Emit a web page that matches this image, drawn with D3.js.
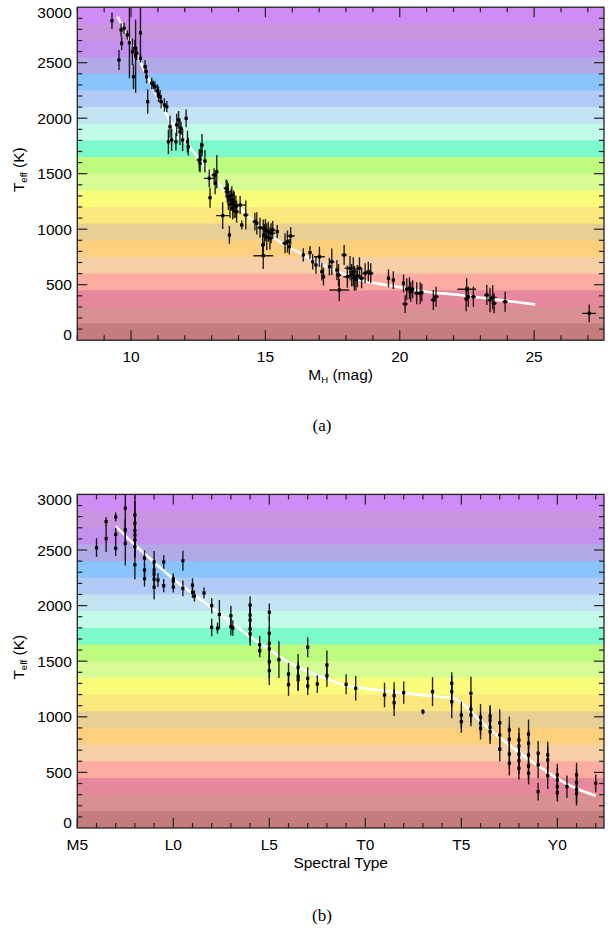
<!DOCTYPE html>
<html>
<head>
<meta charset="utf-8">
<script src="https://cdn.jsdelivr.net/npm/d3@7"></script>
<style>
  html, body { margin: 0; padding: 0; background: #fff; }
  svg { display: block; }
  text { font-family: "Liberation Sans", Arial, Helvetica, sans-serif; fill: #000; }
  .cap { font-family: "Liberation Serif", "Times New Roman", serif; }
</style>
</head>
<body>
<svg id="fig" width="614" height="928"></svg>
<script>
// ---- Temperature bands (150 K wide, hottest first) ----
const bandColors = [
  "#d08cf5", "#cb94e1", "#c490f0", "#b2aae6", "#8ac4fc",
  "#b2caf6", "#c4e4f4", "#c2fce8", "#7cfacc", "#befc80",
  "#d8fc94", "#fcfc7c", "#fce87c", "#e8d094", "#fcd07c",
  "#f8d0a8", "#fcaca0", "#e8889c", "#d89090", "#c47c7c"
];
const bandWidthK = 150;

// ---- Panel (a): Teff vs absolute H magnitude ----
const aMag = [9.29, 9.55, 9.63, 9.65, 9.74, 9.86, 9.94, 10.05, 10.09, 10.14,
  10.17, 10.21, 10.35, 10.35, 10.52, 10.56, 10.58, 10.62, 10.77, 10.83,
  10.89, 10.98, 11.02, 11.08, 11.12, 11.24, 11.33, 11.39, 11.45, 11.51,
  11.67, 11.70, 11.77, 11.82, 11.86, 11.92, 12.05, 12.10, 12.13, 12.54,
  12.57, 12.60, 12.64, 12.75, 12.91, 12.94, 13.09, 13.13, 13.19, 13.41,
  13.54, 13.58, 13.62, 13.66, 13.68, 13.72, 13.75, 13.78, 13.81, 13.84,
  13.90, 13.93, 14.06, 14.12, 14.27, 14.61, 14.68, 14.80, 14.90, 14.92,
  14.96, 15.00, 15.05, 15.11, 15.17, 15.21, 15.27, 15.44, 14.92, 15.73,
  15.82, 15.89, 15.94, 16.41, 16.66, 16.76, 16.88, 17.01, 17.10, 17.16,
  17.38, 17.47, 17.66, 17.72, 17.75, 17.93, 18.05, 18.15, 18.21, 18.27,
  18.31, 18.37, 18.42, 18.50, 18.58, 18.71, 18.83, 18.92, 19.58, 19.76,
  20.14, 20.20, 20.26, 20.36, 20.41, 20.48, 20.63, 20.76, 20.82, 21.25,
  21.35, 22.49, 22.47, 22.55, 22.74, 23.24, 23.36, 23.46, 23.51, 23.92,
  27.05];
const aTeff = [2878, 2524, 2795, 2675, 2810, 2750, 2680, 2599, 2374, 2630,
  2560, 2585, 2770, 2540, 2464, 2419, 2374, 2149, 2314, 2299,
  2284, 2245, 2215, 2194, 2149, 2119, 2104, 1788, 1923, 1804,
  1788, 1939, 1984, 1878, 1909, 1804, 1999, 1788, 1743, 1623,
  1593, 1698, 1758, 1614, 1458, 1284, 1488, 1414, 1518, 1122,
  1368, 1338, 1293, 948, 1224, 1263, 1308, 1188, 1248, 1218,
  1203, 1158, 1218, 1038, 1128, 1068, 1053, 1014, 858, 761,
  948, 993, 933, 978, 918, 963, 993, 978, 1008, 873,
  888, 842, 939, 768, 789, 707, 678, 752, 617, 572,
  662, 707, 632, 587, 452, 768, 572, 648, 587, 617,
  558, 548, 578, 648, 558, 603, 617, 603, 558, 542,
  513, 326, 459, 468, 437, 459, 423, 423, 428, 362,
  392, 459, 371, 392, 392, 407, 362, 386, 332, 347,
  242];
const aMagErr = [0.05, 0.05, 0.05, 0.05, 0.05, 0.05, 0.05, 0.05, 0.05, 0.05,
  0.05, 0.05, 0.05, 0.05, 0.05, 0.05, 0.05, 0.05, 0.05, 0.05,
  0.05, 0.05, 0.05, 0.05, 0.05, 0.05, 0.05, 0.05, 0.05, 0.05,
  0.05, 0.05, 0.05, 0.05, 0.05, 0.05, 0.05, 0.05, 0.05, 0.10,
  0.05, 0.05, 0.05, 0.05, 0.20, 0.05, 0.10, 0.05, 0.05, 0.25,
  0.10, 0.10, 0.10, 0.05, 0.10, 0.15, 0.10, 0.10, 0.10, 0.15,
  0.10, 0.10, 0.20, 0.05, 0.10, 0.10, 0.05, 0.10, 0.05, 0.37,
  0.05, 0.10, 0.10, 0.10, 0.10, 0.15, 0.10, 0.05, 0.10, 0.10,
  0.05, 0.05, 0.15, 0.05, 0.05, 0.05, 0.05, 0.20, 0.05, 0.05,
  0.05, 0.10, 0.05, 0.10, 0.37, 0.10, 0.15, 0.20, 0.10, 0.15,
  0.10, 0.10, 0.15, 0.10, 0.10, 0.10, 0.10, 0.10, 0.05, 0.05,
  0.05, 0.10, 0.05, 0.10, 0.10, 0.05, 0.10, 0.10, 0.05, 0.10,
  0.10, 0.35, 0.05, 0.05, 0.10, 0.10, 0.10, 0.15, 0.10, 0.10,
  0.26];
const aTeffErr = [75, 90, 60, 60, 50, 40, 320, 120, 110, 80,
  330, 60, 260, 40, 60, 60, 60, 110, 50, 40,
  50, 60, 70, 60, 60, 60, 50, 110, 100, 100,
  80, 100, 80, 120, 60, 100, 80, 100, 80, 100,
  80, 80, 100, 100, 80, 90, 60, 100, 150, 120,
  80, 100, 120, 80, 120, 100, 80, 100, 100, 120,
  100, 100, 80, 40, 130, 80, 100, 90, 100, 120,
  100, 100, 120, 90, 100, 90, 80, 60, 80, 90,
  100, 70, 80, 60, 60, 70, 80, 90, 80, 80,
  80, 120, 90, 100, 100, 90, 100, 110, 100, 130,
  110, 100, 100, 100, 90, 90, 90, 90, 80, 80,
  80, 80, 100, 100, 90, 80, 100, 100, 80, 90,
  90, 100, 110, 90, 90, 90, 110, 110, 90, 90,
  80];
// polynomial relation (white curve)
const aFitMag = [9.5, 10.0, 10.46, 11.33, 12.57, 13.5, 14.43, 15.55, 16.29, 17.28, 18.52, 19.76, 21.0, 22.24, 23.48, 24.73, 25.04];
const aFitTeff = [2914, 2680, 2449, 2029, 1623, 1340, 1098, 885, 783, 662, 542, 488, 437, 407, 368, 332, 323];

// ---- Panel (b): Teff vs spectral type (M5 = 5, L0 = 10, T0 = 20, Y0 = 30) ----
const bSpt = [6.0, 6.5, 6.5, 7.0, 7.0, 7.0, 7.5, 7.5, 7.5,
  8.0, 8.0, 8.0, 8.0, 8.0, 8.0, 8.0, 8.5, 8.5, 8.5,
  9.0, 9.0, 9.0, 9.0, 9.0, 9.2, 9.5, 9.5, 10.0, 10.0, 10.0,
  10.5, 10.5, 11.0, 11.0, 11.1, 11.6, 12.0, 12.0, 12.3, 12.4,
  13.0, 13.0, 13.1, 14.0, 14.0, 14.0, 14.0, 14.0, 14.5, 14.5,
  15.0, 15.0, 15.0, 15.0, 15.0, 15.0, 15.5, 16.0, 16.0,
  16.5, 16.5, 16.5, 17.0, 17.0, 17.0, 17.5, 18.0, 18.0,
  19.0, 19.5, 21.0, 21.5, 21.5, 22.0, 23.0, 23.5,
  24.5, 24.5, 24.5, 25.0, 25.0, 25.5, 25.5, 25.5,
  26.0, 26.0, 26.0, 26.5, 26.5, 26.5, 26.5, 27.0, 27.0, 27.0,
  27.5, 27.5, 27.5, 27.5, 28.0, 28.0, 28.0, 28.0, 28.0,
  28.5, 28.5, 28.5, 28.5, 28.5, 29.0, 29.0, 29.0, 29.5, 29.5, 29.5,
  30.0, 30.0, 30.0, 30.0, 30.5, 31.0, 31.0, 31.0, 31.0, 32.0];
const bTeff = [2521, 2755, 2602, 2797, 2641, 2515, 2875, 2680, 2560,
  2815, 2740, 2674, 2635, 2590, 2530, 2368, 2428, 2320, 2242,
  2390, 2320, 2284, 2236, 2165, 2230, 2392, 2179, 2239, 2218, 2167,
  2404, 2155, 2185, 2119, 2086, 2113, 1999, 1805, 1796, 1920,
  1909, 1810, 1799, 2005, 1915, 1870, 1790, 1745, 1649, 1595,
  1940, 1751, 1661, 1610, 1496, 1415, 1514, 1385, 1289,
  1445, 1364, 1334, 1625, 1346, 1277, 1295, 1466, 1370,
  1292, 1256, 1196, 1190, 1127, 1217, 1046, 1226,
  1301, 1226, 1136, 1016, 956, 1211, 1067, 1016,
  995, 941, 896, 1007, 971, 905, 866, 947, 836, 708,
  881, 798, 665, 582, 791, 737, 665, 605, 537,
  845, 762, 656, 558, 492, 672, 567, 327, 656, 612, 470,
  477, 432, 372, 318, 372, 477, 408, 348, 312, 402];
const bTeffErr = [85, 40, 120, 40, 60, 70, 250, 100, 200,
  300, 200, 150, 150, 150, 100, 130, 70, 60, 70,
  100, 90, 60, 80, 110, 60, 60, 60, 50, 50, 50,
  90, 70, 60, 50, 50, 50, 70, 80, 50, 130,
  90, 80, 70, 80, 100, 120, 150, 80, 80, 60,
  80, 150, 150, 150, 150, 130, 165, 100, 100,
  120, 130, 100, 90, 100, 80, 80, 130, 100,
  90, 110, 110, 120, 120, 100, 25, 130,
  100, 140, 150, 120, 100, 150, 120, 100,
  120, 100, 100, 100, 120, 120, 110, 120, 120, 110,
  120, 130, 130, 110, 110, 120, 110, 120, 100,
  130, 120, 120, 120, 100, 110, 120, 80, 120, 120, 120,
  100, 110, 100, 80, 100, 110, 120, 120, 110, 80];
// polynomial relation (white curve)
const bFitSpt = [7, 8, 9, 10, 11, 12, 13, 14, 15, 16, 17, 18, 18.9, 20, 21, 22, 23, 24, 24.6, 25, 26, 27, 28, 29, 30, 31, 32];
const bFitTeff = [2713, 2545, 2390, 2240, 2110, 1980, 1850, 1720, 1605, 1490, 1410, 1340, 1285, 1255, 1235, 1215, 1195, 1178, 1168, 1125, 960, 815, 680, 560, 445, 355, 290];

// ---- Tick labels ----
const yTicks = [0, 500, 1000, 1500, 2000, 2500, 3000];
const aXTicks = [10, 15, 20, 25];
const bXTicks = [5, 10, 15, 20, 25, 30];
const bXTickLabels = ["M5", "L0", "L5", "T0", "T5", "Y0"];

const svg = d3.select("#fig");
const L = 77.3, R = 604;

function drawPanel(p) {
  const g = svg.append("g");
  const x = d3.scaleLinear().domain(p.xDomain).range([L, R]);
  const y = d3.scaleLinear().domain([0, 3000]).range([p.bottom, p.top]);

  const clipId = "clip-" + p.name;
  svg.append("clipPath").attr("id", clipId)
    .append("rect").attr("x", L).attr("y", p.top).attr("width", R - L).attr("height", p.bottom - p.top);

  // colour bands (each overlaps the next slightly so no seams show)
  const bands = bandColors.map((c, i) => ({ hi: 3000 - i * bandWidthK, lo: 3000 - (i + 1) * bandWidthK, c }));
  g.append("g").selectAll("rect").data(bands).join("rect")
    .attr("x", L).attr("width", R - L)
    .attr("y", d => y(d.hi))
    .attr("height", (d, i) => y(d.lo) - y(d.hi) + (i < bands.length - 1 ? 0.8 : 0))
    .attr("fill", d => d.c);

  const inner = g.append("g").attr("clip-path", `url(#${clipId})`);

  // fitted relation
  const fit = p.fitX.map((v, i) => [v, p.fitY[i]]);
  inner.append("path").datum(fit)
    .attr("fill", "none").attr("stroke", "#fff").attr("stroke-width", 2.6)
    .attr("d", d3.line().x(d => x(d[0])).y(d => y(d[1])).curve(d3.curveMonotoneX));

  const pts = p.xs.map((v, i) => ({ x: v, y: p.ys[i], dx: p.dxs ? p.dxs[i] : 0, dy: p.dys[i] }));
  const eb = inner.append("g").attr("stroke", "#000").attr("stroke-width", 1.4).attr("stroke-opacity", 0.85);
  eb.selectAll("line.v").data(pts).join("line").attr("class", "v")
    .attr("x1", d => x(d.x)).attr("x2", d => x(d.x))
    .attr("y1", d => y(d.y - d.dy)).attr("y2", d => y(d.y + d.dy));
  eb.selectAll("line.h").data(pts.filter(d => d.dx > 0)).join("line").attr("class", "h")
    .attr("y1", d => y(d.y)).attr("y2", d => y(d.y))
    .attr("x1", d => x(d.x - d.dx)).attr("x2", d => x(d.x + d.dx));
  inner.append("g").selectAll("rect").data(pts).join("rect")
    .attr("x", d => x(d.x) - 1.6).attr("y", d => y(d.y) - 1.6)
    .attr("width", 3.2).attr("height", 3.2).attr("fill", "#000");

  // frame
  g.append("rect").attr("x", L).attr("y", p.top).attr("width", R - L).attr("height", p.bottom - p.top)
    .attr("fill", "none").attr("stroke", "#222").attr("stroke-width", 1.3);

  const tk = g.append("g").attr("stroke", "#222").attr("stroke-width", 1.2);
  // y ticks, left and right
  const yMinor = d3.range(100, 3000, 100);
  yMinor.forEach(v => {
    const len = v % 500 === 0 ? 10 : 5;
    tk.append("line").attr("x1", L).attr("x2", L + len).attr("y1", y(v)).attr("y2", y(v));
    tk.append("line").attr("x1", R).attr("x2", R - len).attr("y1", y(v)).attr("y2", y(v));
  });
  // x ticks, bottom and top
  const xMinor = d3.range(Math.ceil(p.xDomain[0]), p.xDomain[1], 1);
  xMinor.forEach(v => {
    const len = v % 5 === 0 ? 10 : 5;
    tk.append("line").attr("y1", p.bottom).attr("y2", p.bottom - len).attr("x1", x(v)).attr("x2", x(v));
    tk.append("line").attr("y1", p.top).attr("y2", p.top + len).attr("x1", x(v)).attr("x2", x(v));
  });

  // y tick labels (kept inside the axis span at the ends)
  g.append("g").selectAll("text").data(yTicks).join("text")
    .attr("x", L - 5.5)
    .attr("y", d => Math.max(p.top + 5.5, Math.min(p.bottom - 5.3, y(d))))
    .attr("dy", "0.36em").attr("text-anchor", "end").attr("font-size", 15.5)
    .text(d => d);

  // x tick labels
  g.append("g").selectAll("text").data(p.xTicks).join("text")
    .attr("x", d => x(d)).attr("y", p.bottom + 21.5)
    .attr("text-anchor", "middle").attr("font-size", 15.5)
    .text((d, i) => p.xTickLabels ? p.xTickLabels[i] : d);

  // axis titles
  const xt = g.append("text").attr("x", (L + R) / 2).attr("y", p.bottom + 39.5)
    .attr("text-anchor", "middle").attr("font-size", 15.5);
  p.xTitle(xt);

  const cy = (p.top + p.bottom) / 2 - 4;
  const yt = g.append("text").attr("transform", `translate(24,${cy}) rotate(-90)`)
    .attr("text-anchor", "middle").attr("font-size", 15.5);
  yt.append("tspan").text("T");
  yt.append("tspan").attr("font-size", 9.5).attr("dy", 3).text("eff");
  yt.append("tspan").attr("dy", -3).text(" (K)");

  // caption
  g.append("text").attr("class", "cap").attr("x", 322).attr("y", p.capY)
    .attr("text-anchor", "middle").attr("font-size", 17).text(p.caption);
}

drawPanel({
  name: "a", top: 7.2, bottom: 340.2, xDomain: [8, 27.6],
  xs: aMag, ys: aTeff, dxs: aMagErr, dys: aTeffErr,
  fitX: aFitMag, fitY: aFitTeff,
  xTicks: aXTicks, capY: 431, caption: "(a)",
  xTitle: t => {
    t.append("tspan").text("M");
    t.append("tspan").attr("font-size", 9.5).attr("dy", 3).text("H");
    t.append("tspan").attr("dy", -3).text(" (mag)");
  }
});

drawPanel({
  name: "b", top: 494.4, bottom: 828, xDomain: [5, 32.43],
  xs: bSpt, ys: bTeff, dxs: null, dys: bTeffErr,
  fitX: bFitSpt, fitY: bFitTeff,
  xTicks: bXTicks, xTickLabels: bXTickLabels, capY: 921, caption: "(b)",
  xTitle: t => t.text("Spectral Type")
});
</script>
</body>
</html>
